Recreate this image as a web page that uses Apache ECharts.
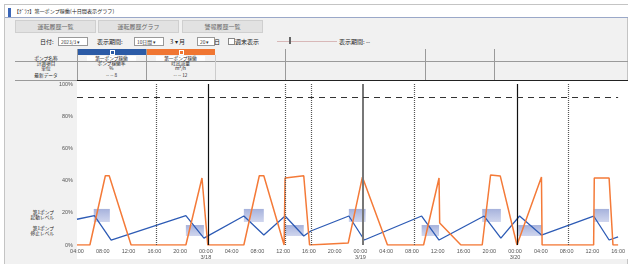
<!DOCTYPE html>
<html lang="ja">
<head>
<meta charset="utf-8">
<script src="https://cdn.jsdelivr.net/npm/echarts@6/dist/echarts.min.js"></script>
<style>
  body { margin: 0; width: 628px; height: 264px; overflow: hidden; background: #fff;
         font-family: "Noto Sans CJK JP", "Noto Sans", sans-serif; color: #333; }
  .abs { position: absolute; white-space: nowrap; }
  #frame { left: 4px; top: 4px; width: 622px; height: 259px; border: 1px solid #c4c4c4; background: #f1f1f1; }
  #titlebar { left: 5px; top: 5px; width: 623px; height: 12px; background: #fff; border-bottom: 1px solid #9aa8c8; }
  .btn { top: 20px; height: 11px; background: #e2e2e2; border: 1px solid #cfcfcf; font-size: 6px; color: #666;
         text-align: center; line-height: 11px; }
  .sel { top: 37px; height: 7px; background: #fff; border: 1px solid #999; font-size: 6px; line-height: 7px; padding-left: 1px; }
  .txt { font-size: 6px; line-height: 7px; color: #222; }
  .cell { font-size: 6px; line-height: 6px; text-align: center; color: #222; transform: scale(0.78); transform-origin: 50% 0; }
  .rt { text-align: right; transform-origin: 100% 0; }
  .vl { width: 1px; background: #9a9a9a; }
  #chart { position: absolute; left: 0; top: 81px; width: 628px; height: 183px; }
</style>
</head>
<body>
<div id="frame" class="abs"></div>
<div id="titlebar" class="abs"></div>
<div class="abs" style="left:8px;top:8px;width:3px;height:9px;background:#3b66b8"></div>
<div class="abs txt" style="left:14px;top:8px;transform:scale(0.85);transform-origin:0 0">【ｸﾞﾗﾌ】第一ポンプ稼働(十日間表示グラフ)</div>

<div class="abs btn" style="left:15px;width:79px">運転履歴一覧</div>
<div class="abs btn" style="left:98px;width:79px">運転履歴グラフ</div>
<div class="abs btn" style="left:182px;width:79px">警報履歴一覧</div>

<div class="abs txt" style="left:40px;top:38px">日付:</div>
<div class="abs sel" style="left:58px;width:27px"><span class="abs" style="transform:scale(0.8);transform-origin:0 0;left:2px;top:1px">2023/3 ▾</span></div>
<div class="abs txt" style="left:97px;top:38px">表示期間:</div>
<div class="abs sel" style="left:134px;width:27px"><span class="abs" style="transform:scale(0.8);transform-origin:0 0;left:2px;top:1px">10日間 ▾</span></div>
<div class="abs txt" style="left:170px;top:38px">3 ▾ 月</div>
<div class="abs sel" style="left:197px;width:15px"><span class="abs" style="transform:scale(0.8);transform-origin:0 0;left:2px;top:1px">20 ▾</span></div>
<div class="abs txt" style="left:214px;top:38px">日</div>
<div class="abs" style="left:228px;top:38px;width:5px;height:5px;border:1px solid #888;background:#fff"></div>
<div class="abs txt" style="left:235px;top:38px">週末表示</div>
<div class="abs" style="left:277px;top:41px;width:60px;height:1px;background:#d8b8b8"></div>
<div class="abs" style="left:289px;top:37px;width:2px;height:7px;background:#666"></div>
<div class="abs txt" style="left:339px;top:38px">表示期間: --</div>

<div class="abs" style="left:77px;top:49px;width:69px;height:6px;background:#2c5ba6"></div>
<div class="abs" style="left:146px;top:49px;width:69px;height:6px;background:#f07632"></div>
<div class="abs" style="left:110px;top:50px;width:3px;height:3px;border:0.5px solid #fff"></div>
<div class="abs" style="left:179px;top:50px;width:3px;height:3px;border:0.5px solid #fff"></div>
<div class="abs" style="left:15px;top:61px;width:613px;height:1px;background:#9a9a9a"></div>
<div class="abs vl" style="left:77px;top:49px;height:31px"></div>
<div class="abs vl" style="left:146px;top:49px;height:31px"></div>
<div class="abs vl" style="left:215px;top:55px;height:25px;background:#ccc"></div>
<div class="abs vl" style="left:285px;top:49px;height:31px"></div>
<div class="abs vl" style="left:425px;top:49px;height:31px"></div>
<div class="abs vl" style="left:494px;top:49px;height:31px"></div>

<div class="abs cell" style="left:15px;top:56px;width:62px">ポンプ名称</div>
<div class="abs cell" style="left:15px;top:61px;width:62px">計測項目</div>
<div class="abs cell" style="left:15px;top:66px;width:62px">単位</div>
<div class="abs cell" style="left:15px;top:73px;width:62px">最新データ</div>
<div class="abs cell" style="left:80px;top:56px;width:63px;background:#fff">第一ポンプ稼働</div>
<div class="abs cell" style="left:77px;top:61px;width:69px">ポンプ稼働率</div>
<div class="abs cell" style="left:77px;top:66px;width:69px">%</div>
<div class="abs cell" style="left:77px;top:73px;width:69px">-- -- 8</div>
<div class="abs cell" style="left:149px;top:56px;width:63px;background:#fff">第一ポンプ稼働</div>
<div class="abs cell" style="left:146px;top:61px;width:69px">吐出流量</div>
<div class="abs cell" style="left:146px;top:66px;width:69px">m³/h</div>
<div class="abs cell" style="left:146px;top:73px;width:69px">-- -- 12</div>

<div class="abs" style="left:15px;top:80px;width:62px;height:1px;background:#9a9a9a"></div>
<div class="abs" style="left:77px;top:80px;width:551px;height:178px;background:#fff;border-top:1px solid #222"></div>

<div class="abs cell rt" style="left:4px;top:210px;width:50px">第1ポンプ<br>起動レベル</div>
<div class="abs cell rt" style="left:4px;top:226px;width:50px">第1ポンプ<br>停止レベル</div>

<div id="chart"></div>

<script>
// hours from 04:00 3/17
var blueX = [0, 2.7, 5.3, 16.9, 19.7, 25.9, 29.0, 32.3, 35.2, 36.3, 42.2, 44.6, 53.5, 56.2, 63.2, 65.8, 68.7, 72.1, 80.2, 82.6, 84]
var blueY = [16, 18.2, 3.1, 18.2, 4.3, 18, 6.2, 18, 5.6, 8.7, 18, 3.1, 18, 3.1, 18, 4.3, 18, 6.2, 18, 3.1, 5]

var orangeX = [0, 2.0, 4.4, 5.0, 8.4, 16.9, 19.4, 20.3, 25.9, 28.3, 29.0, 32.15, 32.3, 35.2, 36.1, 42.1, 44.3, 48.2,
  53.8, 56.2, 56.3, 59.6, 62.9, 64.2, 65.7, 68.3, 72.1, 72.2, 80.2, 80.3, 82.6, 83.2, 84]
var orangeY = [0, 0, 43, 43, 0, 0, 41.6, 0, 0, 43, 43, 0, 41.6, 43, 0, 1.2, 42.2, 0,
  0, 41.6, 13.7, 0, 0, 43.5, 42.9, 0, 42.2, 0, 0, 41.6, 41.6, 0, 0]

var bandStart = [2.6, 16.9, 25.9, 32.3, 42.2, 53.5, 62.9, 68.5, 80.2]
var bandEnd = [5.1, 19.7, 29.0, 35.2, 44.8, 56.2, 65.8, 72.1, 82.6]
var bandLow = [14.3, 5.6, 14.3, 5.6, 14.3, 5.6, 14.3, 5.6, 14.3]
var bandHigh = [22.4, 12.4, 22.4, 12.4, 22.4, 12.4, 22.4, 12.4, 22.4]

var dottedLines = [12.3, 32.3, 36.4, 52.3, 76.2]
var dayLines = [20.3, 68.3]
var grayLines = [44.3]
var thresholdLine = 91.5

var tickLabels = ['04:00', '08:00', '12:00', '16:00', '20:00', '00:00\n3/18', '04:00', '08:00', '12:00', '16:00', '20:00',
  '00:00\n3/19', '04:00', '08:00', '12:00', '16:00', '20:00', '00:00\n3/20', '04:00', '08:00', '12:00', '16:00']

var chart = echarts.init(document.getElementById('chart'))

var zip = function(xs, ys) {
  return xs.map(function(x, i) { return [x, ys[i]] })
}

var vLines = []
dottedLines.forEach(function(v) {
  vLines.push({ xAxis: v, lineStyle: { color: '#555', type: [1, 1], width: 1.2 } })
})
dayLines.forEach(function(v) {
  vLines.push({ xAxis: v, lineStyle: { color: '#111', type: 'solid', width: 1.2 } })
})
grayLines.forEach(function(v) {
  vLines.push({ xAxis: v, lineStyle: { color: '#777', type: 'solid', width: 2 } })
})
vLines.push({ yAxis: thresholdLine, lineStyle: { color: '#333', type: [6, 5], width: 1.2 } })

var bands = bandStart.map(function(s, i) {
  return [{ xAxis: s, yAxis: bandHigh[i] }, { xAxis: bandEnd[i], yAxis: bandLow[i] }]
})

chart.setOption({
  animation: false,
  grid: { left: 77, right: 0, top: 3, bottom: 19 },
  xAxis: {
    type: 'value',
    min: 0,
    max: 84,
    interval: 4,
    axisLine: { show: false },
    axisTick: { show: false },
    splitLine: { show: false },
    axisLabel: {
      fontSize: 5.5,
      color: '#555',
      margin: 3,
      lineHeight: 6,
      formatter: function(v) { return tickLabels[v / 4] }
    }
  },
  yAxis: {
    type: 'value',
    min: 0,
    max: 100,
    interval: 20,
    axisLine: { show: false },
    axisTick: { show: false },
    splitLine: { show: false },
    axisLabel: { fontSize: 5.5, color: '#555', margin: 4, formatter: '{value}%' }
  },
  series: [
    {
      type: 'line',
      data: zip(blueX, blueY),
      showSymbol: false,
      lineStyle: { color: '#2d5bb5', width: 1.3 },
      z: 3,
      markArea: {
        silent: true,
        itemStyle: {
          color: new echarts.graphic.LinearGradient(0, 0, 0, 1, [
            { offset: 0, color: 'rgba(150,164,214,0.85)' },
            { offset: 1, color: 'rgba(192,200,232,0.75)' }
          ])
        },
        data: bands
      }
    },
    {
      type: 'line',
      data: zip(orangeX, orangeY),
      showSymbol: false,
      lineStyle: { color: '#f47a38', width: 1.5 },
      z: 4,
      markLine: {
        silent: true,
        symbol: 'none',
        label: { show: false },
        data: vLines
      }
    }
  ]
})
</script>
</body>
</html>
